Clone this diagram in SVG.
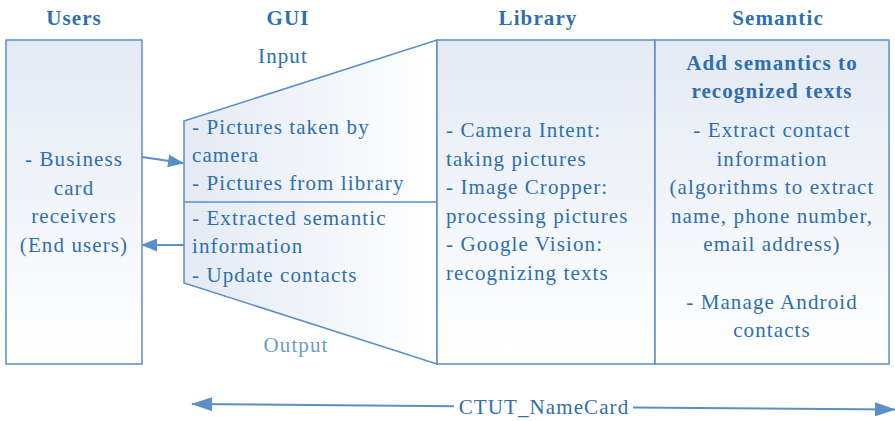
<svg xmlns="http://www.w3.org/2000/svg" width="895" height="421" viewBox="0 0 895 421">
<defs>
<linearGradient id="gv" x1="0" y1="0" x2="0" y2="1">
<stop offset="0" stop-color="#e4eaf4"/>
<stop offset="1" stop-color="#ffffff"/>
</linearGradient>
<linearGradient id="gh" x1="0" y1="0" x2="1" y2="0">
<stop offset="0" stop-color="#e4eaf4"/>
<stop offset="1" stop-color="#ffffff"/>
</linearGradient>
<marker id="ah2" markerWidth="16" markerHeight="13" refX="15" refY="6.5" orient="auto" markerUnits="userSpaceOnUse">
<path d="M0,0 L16,6.5 L0,13 Z" fill="#5b8fc7"/>
</marker>
<marker id="ahb" markerWidth="21" markerHeight="14" refX="20" refY="7" orient="auto" markerUnits="userSpaceOnUse">
<path d="M0,0 L21,7 L0,14 Z" fill="#5b8fc7"/>
</marker>
<marker id="asb" markerWidth="21" markerHeight="14" refX="1" refY="7" orient="auto" markerUnits="userSpaceOnUse">
<path d="M21,0 L0,7 L21,14 Z" fill="#5b8fc7"/>
</marker>
</defs>
<style>
.box{stroke:#5b8fc7;stroke-width:1.5}
text{font-family:"Liberation Serif","Times New Roman",serif;font-size:21px;letter-spacing:1.1px;fill:#2e6fb0}
.h{font-weight:bold}
.c{text-anchor:middle}
.lbl{fill:#6a9bd0}
.ln{stroke:#5b8fc7;stroke-width:2;fill:none}
</style>
<g id="headers">
<text class="h c" x="74" y="25">Users</text>
<text class="h c" x="288" y="25">GUI</text>
<text class="h c" x="538" y="25">Library</text>
<text class="h c" x="778" y="25">Semantic</text>
</g>
<g id="users">
<rect class="box" x="6" y="40" width="136" height="324" fill="url(#gv)"/>
<text class="c" x="74" y="166">- Business</text>
<text class="c" x="74" y="195">card</text>
<text class="c" x="74" y="223">receivers</text>
<text class="c" x="74" y="252">(End users)</text>
</g>
<g id="gui">
<path class="box" d="M184,121 L437,40 L437,364 L184,283 Z" fill="url(#gh)"/>
<line class="box" x1="184" y1="202" x2="437" y2="202"/>
<text class="c" x="283" y="63">Input</text>
<text x="192" y="134">- Pictures taken by</text>
<text x="192" y="162">camera</text>
<text x="192" y="190">- Pictures from library</text>
<text x="192" y="225">- Extracted semantic</text>
<text x="192" y="253">information</text>
<text x="192" y="282">- Update contacts</text>
<text class="c lbl" x="296" y="352">Output</text>
</g>
<g id="library">
<rect class="box" x="437" y="40" width="218" height="324" fill="url(#gv)"/>
<text x="446" y="137">- Camera Intent:</text>
<text x="446" y="166">taking pictures</text>
<text x="446" y="194">- Image Cropper:</text>
<text x="446" y="223">processing pictures</text>
<text x="446" y="251">- Google Vision:</text>
<text x="446" y="280">recognizing texts</text>
</g>
<g id="semantic">
<rect class="box" x="655" y="40" width="234" height="324" fill="url(#gv)"/>
<text class="h c" x="772" y="70">Add semantics to</text>
<text class="h c" x="772" y="98">recognized texts</text>
<text class="c" x="772" y="137">- Extract contact</text>
<text class="c" x="772" y="166">information</text>
<text class="c" x="772" y="194">(algorithms to extract</text>
<text class="c" x="772" y="223">name, phone number,</text>
<text class="c" x="772" y="251">email address)</text>
<text class="c" x="772" y="309">- Manage Android</text>
<text class="c" x="772" y="337">contacts</text>
</g>
<g id="connectors">
<line class="ln" x1="142" y1="157" x2="183" y2="163" marker-end="url(#ah2)"/>
<line class="ln" x1="184" y1="245" x2="142" y2="245" marker-end="url(#ah2)"/>
<line class="ln" x1="192" y1="404" x2="454" y2="406.2" marker-start="url(#asb)"/>
<line class="ln" x1="633" y1="407.6" x2="895" y2="409.5" marker-end="url(#ahb)"/>
<text class="c" x="544" y="414">CTUT_NameCard</text>
</g>
</svg>
